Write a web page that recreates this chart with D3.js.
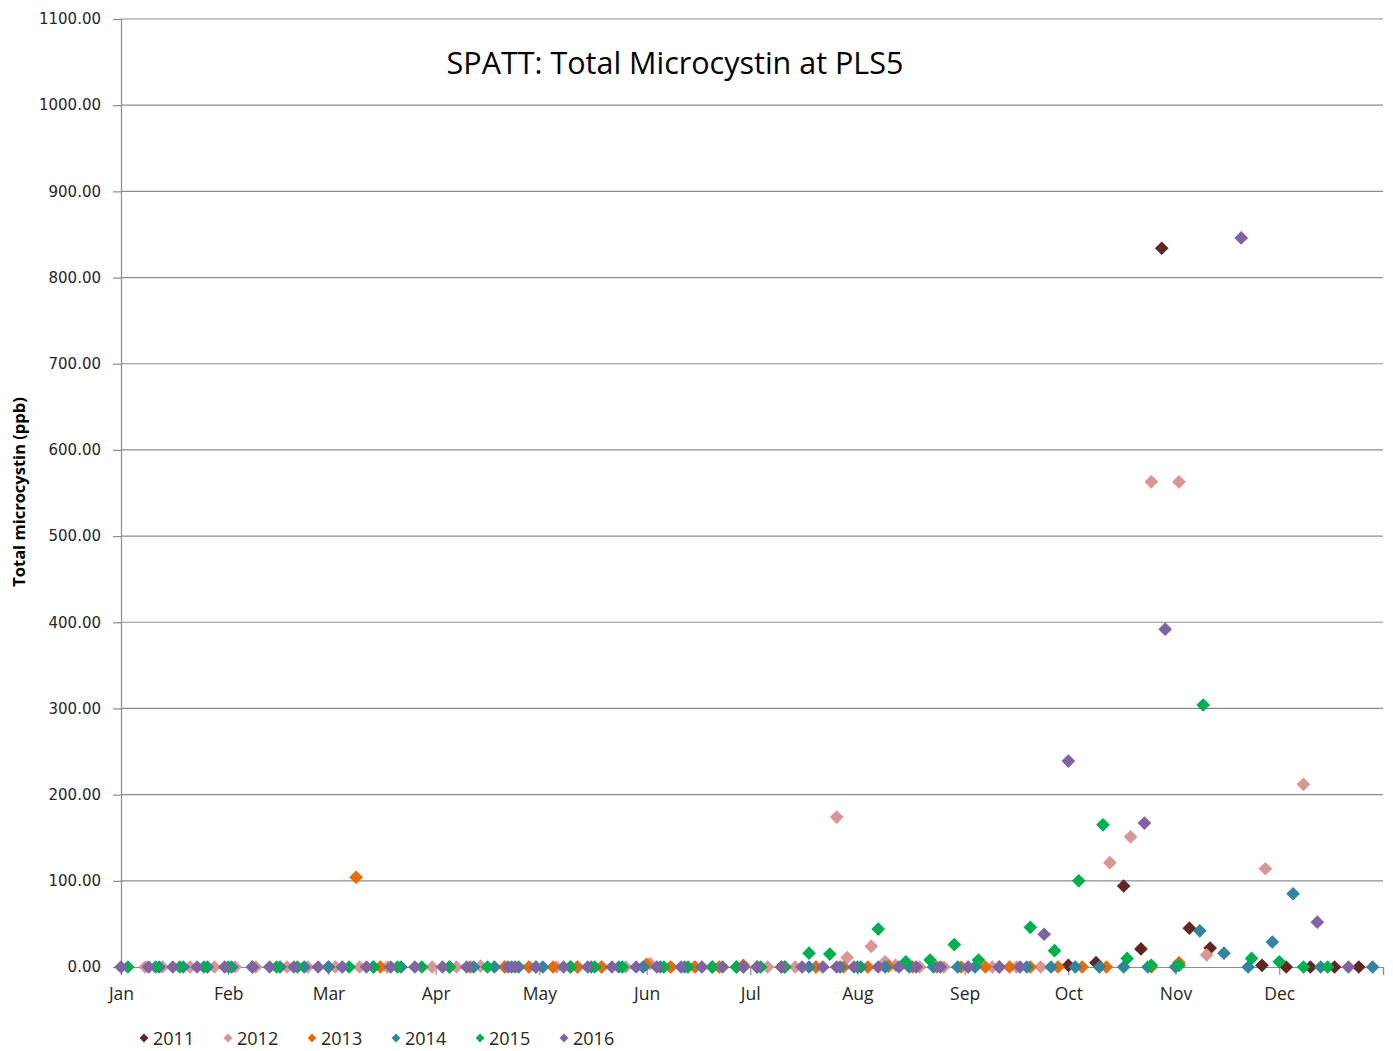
<!DOCTYPE html>
<html>
<head>
<meta charset="utf-8">
<script src="https://cdn.jsdelivr.net/npm/d3@7"></script>
<style>
  body { margin: 0; background: #fff; }
  svg { display: block; }
</style>
</head>
<body>
<div id="chart"></div>
<script>
// sampling dates (month-day) and total microcystin (ppb) per year
var series_names = ['2011', '2012', '2013', '2014', '2015', '2016'];
var series_colors = ['#632523', '#D99694', '#E46C0A', '#31859C', '#00B050', '#8064A2'];

var data_2011 = [
  ['10-01', 2], ['10-09', 5], ['10-17', 94], ['10-22', 21], ['10-28', 834], ['11-05', 45],
  ['11-11', 22], ['11-26', 2], ['12-03', 0], ['12-10', 0], ['12-17', 0], ['12-24', 0]
];
var data_2012 = [
  ['01-08', 0], ['01-13', 0], ['01-21', 0], ['01-28', 0], ['02-03', 0], ['02-09', 0],
  ['02-18', 0], ['02-24', 0], ['03-03', 0], ['03-10', 0], ['03-18', 0], ['03-31', 0],
  ['04-07', 0], ['04-14', 1], ['04-21', 0], ['04-28', 0], ['05-06', 0], ['05-12', 0],
  ['05-19', 0], ['05-26', 0], ['06-02', 4], ['06-08', 0], ['06-15', 0], ['06-22', 0],
  ['06-29', 0], ['07-06', 0], ['07-14', 0], ['07-20', 0], ['07-26', 174], ['07-29', 11],
  ['08-05', 24], ['08-09', 6], ['08-12', 2], ['08-19', 0], ['08-26', 0], ['09-02', 0],
  ['09-09', 0], ['09-16', 0], ['09-23', 0], ['10-13', 121], ['10-19', 151], ['10-25', 563],
  ['11-02', 563], ['11-10', 14], ['11-27', 114], ['12-08', 212]
];
var data_2013 = [
  ['03-01', 0], ['03-09', 104], ['03-16', 0], ['04-11', 0], ['04-21', 0], ['04-28', 0],
  ['05-05', 0], ['05-12', 0], ['05-19', 0], ['06-01', 3], ['06-08', 0], ['06-15', 0],
  ['06-22', 0], ['06-29', 2], ['07-03', 0], ['07-10', 0], ['07-20', 0], ['07-28', 0],
  ['08-04', 0], ['08-10', 1], ['08-17', 0], ['08-24', 0], ['08-31', 0], ['09-07', 0],
  ['09-14', 0], ['09-20', 0], ['09-28', 0], ['10-05', 0], ['10-12', 0], ['10-25', 0],
  ['11-02', 5]
];
var data_2014 = [
  ['01-12', 0], ['01-19', 0], ['01-26', 0], ['02-02', 0], ['02-16', 0], ['02-23', 0],
  ['03-01', 0], ['03-14', 0], ['03-22', 0], ['04-05', 0], ['04-12', 0], ['04-18', 0],
  ['04-25', 0], ['05-02', 0], ['05-10', 0], ['05-16', 0], ['05-24', 0], ['05-31', 0],
  ['06-05', 0], ['06-12', 0], ['06-20', 0], ['06-27', 0], ['07-03', 0], ['07-11', 0],
  ['07-18', 0], ['07-27', 0], ['08-02', 0], ['08-09', 0], ['08-16', 0], ['08-23', 0],
  ['08-30', 0], ['09-04', 0], ['09-11', 0], ['09-19', 0], ['09-26', 0], ['10-03', 0],
  ['10-10', 0], ['10-17', 0], ['10-24', 0], ['11-01', 0], ['11-08', 42], ['11-15', 16],
  ['11-22', 0], ['11-29', 29], ['12-05', 85], ['12-13', 0], ['12-28', 0]
];
var data_2015 = [
  ['01-03', 0], ['01-11', 0], ['01-18', 0], ['01-25', 0], ['02-01', 0], ['02-08', 0],
  ['02-15', 0], ['02-21', 0], ['03-07', 0], ['03-14', 0], ['03-21', 0], ['03-28', 0],
  ['04-05', 0], ['04-16', 0], ['04-23', 0], ['04-30', 0], ['05-10', 0], ['05-17', 0],
  ['05-25', 0], ['06-06', 0], ['06-13', 0], ['06-20', 0], ['06-27', 0], ['07-04', 0],
  ['07-11', 0], ['07-18', 16], ['07-24', 15], ['08-01', 0], ['08-07', 44], ['08-15', 6],
  ['08-22', 8], ['08-29', 26], ['09-05', 8], ['09-20', 46], ['09-27', 19], ['10-04', 100],
  ['10-11', 165], ['10-18', 10], ['10-25', 2], ['11-02', 2], ['11-09', 304], ['11-23', 10],
  ['12-01', 6], ['12-08', 0], ['12-15', 0]
];
var data_2016 = [
  ['01-01', 0], ['01-09', 0], ['01-16', 0], ['01-23', 0], ['01-31', 0], ['02-08', 0],
  ['02-13', 0], ['02-20', 0], ['02-27', 0], ['03-05', 0], ['03-12', 0], ['03-19', 0],
  ['03-26', 0], ['04-03', 0], ['04-10', 0], ['04-22', 0], ['04-24', 0], ['04-30', 0],
  ['05-08', 0], ['05-15', 0], ['05-22', 0], ['05-29', 0], ['06-04', 0], ['06-11', 0],
  ['06-17', 0], ['06-23', 0], ['06-29', 0], ['07-03', 0], ['07-10', 0], ['07-16', 0],
  ['07-22', 0], ['07-26', 0], ['07-31', 0], ['08-07', 0], ['08-13', 0], ['08-18', 0],
  ['08-25', 0], ['09-02', 0], ['09-11', 0], ['09-17', 0], ['09-24', 38], ['10-01', 239],
  ['10-23', 167], ['10-29', 392], ['11-20', 846], ['12-12', 52], ['12-21', 0]
];
var all_series = [data_2011, data_2012, data_2013, data_2014, data_2015, data_2016];

var y_ticks = [0, 100, 200, 300, 400, 500, 600, 700, 800, 900, 1000, 1100];
var month_labels = ['Jan', 'Feb', 'Mar', 'Apr', 'May', 'Jun', 'Jul', 'Aug', 'Sep', 'Oct', 'Nov', 'Dec'];

var width = 1393,
    height = 1051;
var plotLeft = 121, plotRight = 1383, plotTop = 19, plotBottom = 967;

var parseDay = d3.timeParse('%Y-%m-%d');
function toDate(md) { return parseDay('2012-' + md); }

var x = d3.scaleTime()
    .domain([parseDay('2012-01-01'), parseDay('2012-12-31')])
    .range([plotLeft, plotRight]);

var y = d3.scaleLinear()
    .domain([0, 1100])
    .range([plotBottom, plotTop]);

var svg = d3.select('#chart')
    .append('svg')
    .attr('width', width)
    .attr('height', height);

// gridlines
svg.append('g')
    .selectAll('line')
    .data(y_ticks.filter(function(d) { return d > 0; }))
    .enter()
    .append('line')
    .attr('x1', plotLeft)
    .attr('x2', plotRight)
    .attr('y1', function(d) { return y(d); })
    .attr('y2', function(d) { return y(d); })
    .attr('stroke', '#8c8c8c')
    .attr('stroke-width', 1.2);

// y axis
var yAxis = d3.axisLeft(y)
    .tickValues(y_ticks)
    .tickSize(8)
    .tickPadding(12)
    .tickFormat(d3.format('.2f'));

var gy = svg.append('g')
    .attr('transform', 'translate(' + plotLeft + ',0)')
    .call(yAxis);
gy.select('.domain').attr('stroke', '#8c8c8c').attr('stroke-width', 1.2);
gy.selectAll('.tick line').attr('stroke', '#8c8c8c').attr('stroke-width', 1.2);
gy.selectAll('.tick text')
    .attr('font-family', 'DejaVu Sans, Verdana, sans-serif')
    .attr('font-size', 15)
    .attr('fill', '#262626');

// x axis
var monthStarts = d3.timeMonth.range(parseDay('2012-01-01'), parseDay('2013-01-01'));
var xAxis = d3.axisBottom(x)
    .tickValues(monthStarts.concat([parseDay('2012-12-31')]))
    .tickSize(8)
    .tickPadding(13)
    .tickFormat(function(d, i) { return month_labels[i] || ''; });

var gx = svg.append('g')
    .attr('transform', 'translate(0,' + plotBottom + ')')
    .call(xAxis);
gx.select('.domain').attr('stroke', '#8c8c8c').attr('stroke-width', 1.2);
gx.selectAll('.tick line').attr('stroke', '#8c8c8c').attr('stroke-width', 1.2);
gx.selectAll('.tick text')
    .attr('font-family', 'Open Sans, sans-serif')
    .attr('font-size', 17.5)
    .attr('fill', '#262626');

// diamonds
var diamond = d3.symbol().type(d3.symbolDiamond2).size(120);

all_series.forEach(function(rows, i) {
  svg.append('g')
      .selectAll('path')
      .data(rows)
      .enter()
      .append('path')
      .attr('d', diamond)
      .attr('transform', function(d) {
        return 'translate(' + x(toDate(d[0])) + ',' + y(d[1]) + ')';
      })
      .attr('fill', series_colors[i]);
});

// title
svg.append('text')
    .attr('x', 675)
    .attr('y', 74)
    .attr('text-anchor', 'middle')
    .attr('font-family', 'Open Sans, sans-serif')
    .attr('font-size', 30.5)
    .attr('fill', '#000')
    .text('SPATT:  Total Microcystin at PLS5');

// y axis title
svg.append('text')
    .attr('transform', 'translate(25,492) rotate(-90)')
    .attr('text-anchor', 'middle')
    .attr('font-family', 'Open Sans, sans-serif')
    .attr('font-weight', 'bold')
    .attr('font-size', 16.5)
    .attr('fill', '#000')
    .text('Total microcystin (ppb)');

// legend
var legendDiamond = d3.symbol().type(d3.symbolDiamond2).size(50);
var legend = svg.append('g')
    .selectAll('g')
    .data(series_names)
    .enter()
    .append('g')
    .attr('transform', function(d, i) { return 'translate(' + (144 + i * 84) + ',1038)'; });

legend.append('path')
    .attr('d', legendDiamond)
    .attr('fill', function(d, i) { return series_colors[i]; });

legend.append('text')
    .attr('x', 9)
    .attr('y', 6.5)
    .attr('font-family', 'Open Sans, sans-serif')
    .attr('font-size', 18)
    .attr('fill', '#262626')
    .text(function(d) { return d; });
</script>
</body>
</html>
